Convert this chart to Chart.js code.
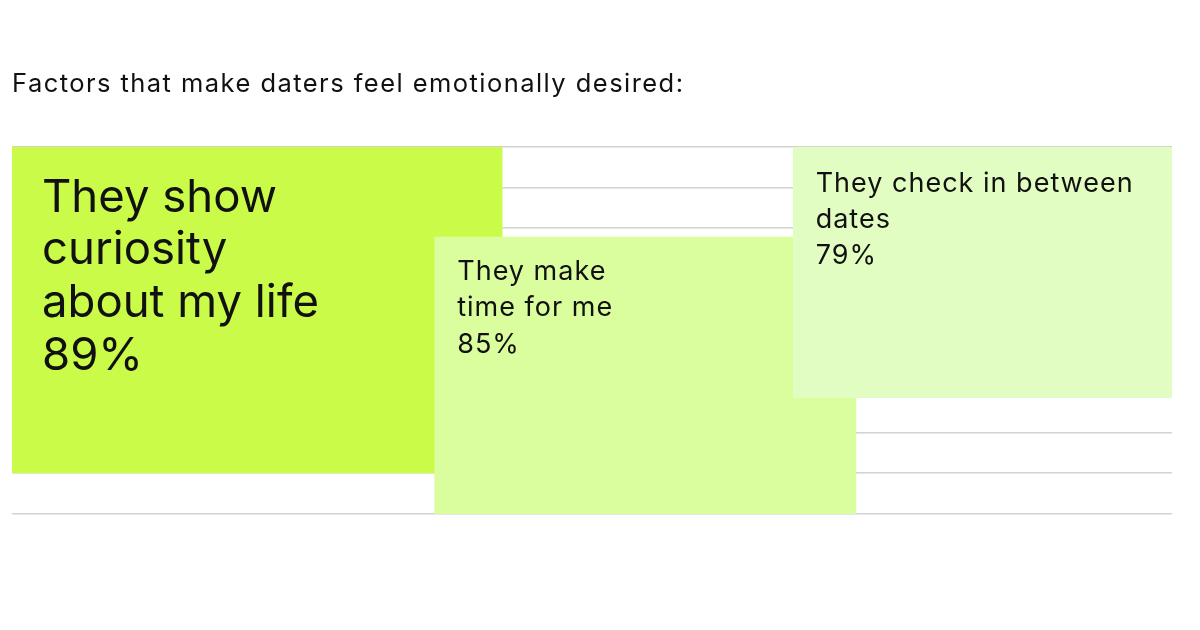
<!DOCTYPE html>
<html>
<head>
<meta charset="utf-8">
<script src="https://cdn.jsdelivr.net/npm/chart.js@4/dist/chart.umd.min.js"></script>
<style>
  body { margin: 0; background: #fff; }
  #wrap { width: 1200px; height: 630px; }
</style>
</head>
<body>
<div id="wrap"><canvas id="desire-chart"></canvas></div>
<script>
var ctx = document.getElementById("desire-chart").getContext("2d");

// Define the data
var labelLines = [
  ["They show", "curiosity", "about my life"],
  ["They make", "time for me"],
  ["They check in between", "dates"]
];
var percents = [89, 85, 79];
// box extents, in axis units (x 0-100, y 0-9)
var boxLeft = [0, 36.4, 67.3];
var boxRight = [42.3, 72.8, 100];
var boxBottom = [1, 0, 2.84];
var boxTop = [9, 6.79, 9];
// End Defining data

var boxColors = ["#c9fb48", "#dafd9d", "#e2fdc1"];
var fontSizes = [45.5, 27, 27];
var spacing = ["0px", "1px", "1px"];
var lineHeights = [52.7, 36.5, 36];
var padX = [30, 23, 23];
var baselineOffset = [65, 43, 45];
var fontFamily = "Inter, 'Noto Sans', sans-serif";

var datasets = labelLines.map(function (lines, i) {
  return {
    label: lines.join(" "),
    data: [
      { x: boxLeft[i], y: boxTop[i] },
      { x: boxRight[i], y: boxTop[i] }
    ],
    showLine: true,
    borderWidth: 0,
    borderColor: "rgba(0,0,0,0)",
    backgroundColor: boxColors[i],
    pointRadius: 0,
    fill: { value: boxBottom[i] },
    order: labelLines.length - i // later boxes sit on top
  };
});

// the title font runs a bit wide, so open up the letters before it is drawn
var titleSpacing = {
  id: "titleSpacing",
  beforeDraw: function (chart) { chart.ctx.letterSpacing = "1.45px"; },
  beforeDatasetsDraw: function (chart) { chart.ctx.letterSpacing = "0px"; }
};

// write the label and percent inside each box
var boxText = {
  id: "boxText",
  afterDatasetsDraw: function (chart) {
    var c = chart.ctx;
    var xs = chart.scales.x;
    var ys = chart.scales.y;
    c.save();
    c.fillStyle = "#111111";
    c.textAlign = "left";
    c.textBaseline = "alphabetic";
    labelLines.forEach(function (lines, i) {
      var x = xs.getPixelForValue(boxLeft[i]) + padX[i];
      var y = ys.getPixelForValue(boxTop[i]) + baselineOffset[i];
      c.font = fontSizes[i] + "px " + fontFamily;
      c.letterSpacing = spacing[i];
      lines.concat([percents[i] + "%"]).forEach(function (t, k) {
        c.fillText(t, x, y + k * lineHeights[i]);
      });
    });
    c.restore();
    c.letterSpacing = "0px";
  }
};

var myChart = new Chart(ctx, {
  type: "scatter",
  data: { datasets: datasets },
  options: {
    responsive: true,
    maintainAspectRatio: false,
    animation: false,
    layout: { padding: { left: 12, right: 28, top: 0, bottom: 116 } },
    plugins: {
      legend: { display: false },
      tooltip: { enabled: false },
      title: {
        display: true,
        text: "Factors that make daters feel emotionally desired:",
        align: "start",
        color: "#111111",
        font: { family: fontFamily, size: 25.5, weight: "normal", lineHeight: 1.2 },
        padding: { top: 69, bottom: 47 }
      }
    },
    scales: {
      x: { type: "linear", min: 0, max: 100, display: false },
      y: {
        type: "linear",
        min: 0,
        max: 9,
        ticks: { display: false, stepSize: 1 },
        grid: { color: "#d2d2d2", lineWidth: 1.5, drawTicks: false },
        border: { display: false }
      }
    }
  },
  plugins: [titleSpacing, boxText]
});
</script>
</body>
</html>
